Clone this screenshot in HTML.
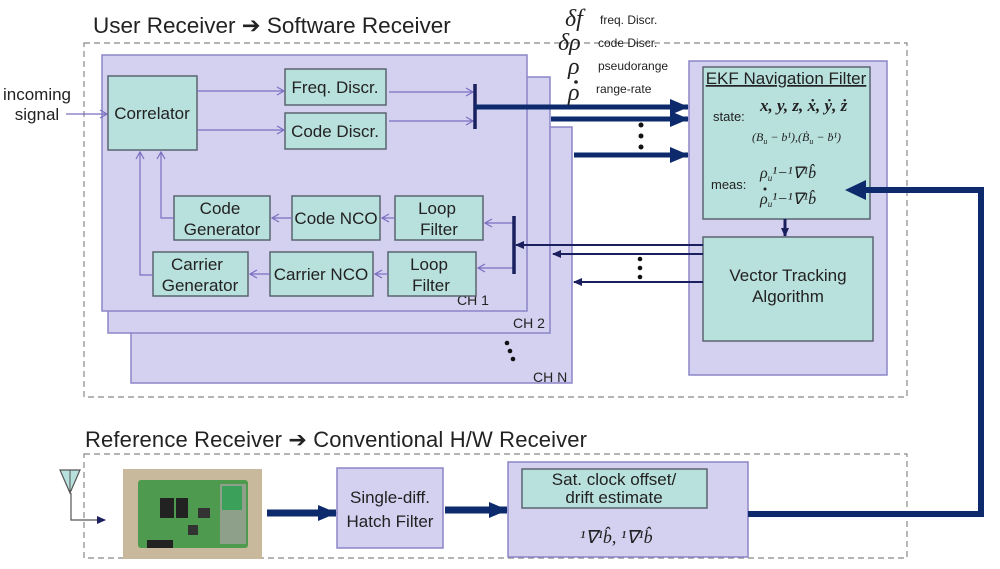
<!DOCTYPE html>
<html><head><meta charset="utf-8"><style>
body{margin:0;background:#fff;}
svg{display:block;font-family:"Liberation Sans","DejaVu Sans",sans-serif;}
.b{fill:#b8e0dc;stroke:#5a6670;stroke-width:1.5}
.p{fill:#d3d0f0;stroke:#8c86c8;stroke-width:1.5}
.t{font-size:17px;fill:#222;text-anchor:middle}
.th{stroke:#7a6fc0;stroke-width:1.2;fill:none}
.m{font-family:"Liberation Serif",serif;font-style:italic;fill:#222}
</style></head><body>
<svg width="1000" height="569" viewBox="0 0 1000 569" xmlns="http://www.w3.org/2000/svg">
<defs>
<marker id="oa" markerWidth="10" markerHeight="10" refX="8" refY="5" orient="auto" markerUnits="userSpaceOnUse"><path d="M1,1 L8,5 L1,9" fill="none" stroke="#7a6fc0" stroke-width="1.2"/></marker>
<marker id="na" markerWidth="10" markerHeight="10" refX="8" refY="5" orient="auto" markerUnits="userSpaceOnUse"><path d="M0,1 L9,5 L0,9 z" fill="#1a1f5e"/></marker>
<marker id="ta" markerWidth="20" markerHeight="20" refX="18" refY="10" orient="auto" markerUnits="userSpaceOnUse"><path d="M0,2 L19,10 L0,18 z" fill="#0c2a6c"/></marker>
</defs>
<text x="93" y="33" font-size="22.5" fill="#222">User Receiver ➔ Software Receiver</text>
<text x="85" y="447" font-size="22" fill="#222" textLength="502">Reference Receiver ➔ Conventional H/W Receiver</text>
<rect x="84" y="43" width="823" height="354" fill="none" stroke="#888" stroke-dasharray="6,4" stroke-width="1.2"/>
<rect x="84" y="454" width="823" height="104" fill="none" stroke="#888" stroke-dasharray="6,4" stroke-width="1.2"/>
<rect class="p" x="131" y="127" width="441" height="256"/>
<rect class="p" x="108" y="77" width="442" height="256"/>
<rect class="p" x="102" y="55" width="425" height="256"/>
<text x="457" y="305" font-size="14" fill="#222">CH 1</text>
<text x="513" y="328" font-size="14" fill="#222">CH 2</text>
<text x="533" y="382" font-size="14" fill="#222">CH N</text>
<circle cx="507" cy="343" r="2.3" fill="#111"/><circle cx="510" cy="351" r="2.3" fill="#111"/><circle cx="513" cy="359" r="2.3" fill="#111"/>
<text x="37" y="100" class="t">incoming</text>
<text x="37" y="120" class="t">signal</text>
<line x1="66" y1="114" x2="107" y2="114" class="th" marker-end="url(#oa)"/>
<rect class="b" x="108" y="76" width="89" height="74"/><text x="152" y="119" class="t">Correlator</text>
<rect class="b" x="285" y="69" width="101" height="36"/><text x="335" y="93" class="t">Freq. Discr.</text>
<rect class="b" x="285" y="113" width="101" height="36"/><text x="335" y="137" class="t">Code Discr.</text>
<line x1="197" y1="91" x2="284" y2="91" class="th" marker-end="url(#oa)"/>
<line x1="197" y1="130" x2="284" y2="130" class="th" marker-end="url(#oa)"/>
<line x1="389" y1="92" x2="473" y2="92" class="th" marker-end="url(#oa)"/>
<line x1="389" y1="121" x2="473" y2="121" class="th" marker-end="url(#oa)"/>
<line x1="475" y1="84" x2="475" y2="129" stroke="#1a1f5e" stroke-width="3.5"/>
<rect class="b" x="174" y="196" width="96" height="44"/><text x="220" y="214" class="t">Code</text><text x="222" y="235" class="t">Generator</text>
<rect class="b" x="292" y="196" width="88" height="44"/><text x="336" y="224" class="t">Code NCO</text>
<rect class="b" x="395" y="196" width="88" height="44"/><text x="437" y="214" class="t">Loop</text><text x="439" y="235" class="t">Filter</text>
<rect class="b" x="153" y="252" width="95" height="44"/><text x="197" y="270" class="t">Carrier</text><text x="200" y="291" class="t">Generator</text>
<rect class="b" x="270" y="252" width="103" height="44"/><text x="321" y="280" class="t">Carrier NCO</text>
<rect class="b" x="388" y="252" width="88" height="44"/><text x="429" y="270" class="t">Loop</text><text x="431" y="291" class="t">Filter</text>
<line x1="292" y1="218" x2="272" y2="218" class="th" marker-end="url(#oa)"/>
<line x1="395" y1="218" x2="382" y2="218" class="th" marker-end="url(#oa)"/>
<line x1="270" y1="274" x2="250" y2="274" class="th" marker-end="url(#oa)"/>
<line x1="388" y1="274" x2="375" y2="274" class="th" marker-end="url(#oa)"/>
<polyline points="174,218 161,218 161,152" class="th" marker-end="url(#oa)"/>
<polyline points="153,275 140,275 140,152" class="th" marker-end="url(#oa)"/>
<line x1="514" y1="223" x2="485" y2="223" class="th" marker-end="url(#oa)"/>
<line x1="514" y1="268" x2="478" y2="268" class="th" marker-end="url(#oa)"/>
<line x1="514" y1="216" x2="514" y2="274" stroke="#1a1f5e" stroke-width="3.5"/>
<line x1="475" y1="107" x2="688" y2="107" stroke="#0c2a6c" stroke-width="5" marker-end="url(#ta)"/>
<line x1="551" y1="119" x2="688" y2="119" stroke="#0c2a6c" stroke-width="5" marker-end="url(#ta)"/>
<line x1="574" y1="155" x2="688" y2="155" stroke="#0c2a6c" stroke-width="5" marker-end="url(#ta)"/>
<circle cx="641" cy="125" r="2.5" fill="#111"/><circle cx="641" cy="136" r="2.5" fill="#111"/><circle cx="641" cy="147" r="2.5" fill="#111"/>
<text x="565" y="26" class="m" font-size="24">δf</text><text x="600" y="24" font-size="12" fill="#222">freq. Discr.</text>
<text x="558" y="50" class="m" font-size="24">δρ</text><text x="598" y="47" font-size="12" fill="#222">code Discr.</text>
<text x="568" y="74" class="m" font-size="24">ρ</text><text x="598" y="70" font-size="12" fill="#222">pseudorange</text>
<text x="568" y="100" class="m" font-size="24">ρ</text><circle cx="576" cy="82" r="1.8" fill="#222"/><text x="596" y="93" font-size="12" fill="#222">range-rate</text>
<rect class="p" x="689" y="61" width="198" height="314"/>
<rect class="b" x="703" y="67" width="167" height="152"/>
<text x="786" y="84" class="t" font-size="16" text-decoration="underline">EKF Navigation Filter</text>
<text x="713" y="121" font-size="13" fill="#222">state:</text>
<text x="760" y="111" class="m" font-size="17" font-weight="bold">x, y, z, ẋ, ẏ, ż</text>
<text x="752" y="141" class="m" font-size="12">(B<tspan font-size="8" dy="3">u</tspan><tspan dy="-3"> − b¹),(Ḃ</tspan><tspan font-size="8" dy="3">u</tspan><tspan dy="-3"> − ḃ¹)</tspan></text>
<text x="711" y="189" font-size="13" fill="#222">meas:</text>
<text x="760" y="178" class="m" font-size="16">ρ<tspan font-size="9" dy="3">u</tspan><tspan dy="-3">¹−¹∇¹b̂</tspan></text>
<text x="760" y="204" class="m" font-size="16">ρ<tspan font-size="9" dy="3">u</tspan><tspan dy="-3">¹−¹∇¹b̂</tspan></text>
<circle cx="765" cy="189" r="1.5" fill="#222"/>
<line x1="785" y1="219" x2="785" y2="236" stroke="#1a1f5e" stroke-width="3" marker-end="url(#na)"/>
<rect class="b" x="703" y="237" width="170" height="104"/>
<text x="788" y="281" class="t">Vector Tracking</text><text x="788" y="302" class="t">Algorithm</text>
<line x1="703" y1="245" x2="516" y2="245" stroke="#1a1f5e" stroke-width="2" marker-end="url(#na)"/>
<line x1="703" y1="254" x2="553" y2="254" stroke="#1a1f5e" stroke-width="2" marker-end="url(#na)"/>
<line x1="703" y1="282" x2="574" y2="282" stroke="#1a1f5e" stroke-width="2" marker-end="url(#na)"/>
<circle cx="640" cy="259" r="2.3" fill="#111"/><circle cx="640" cy="268" r="2.3" fill="#111"/><circle cx="640" cy="277" r="2.3" fill="#111"/>
<polygon points="60,470 80,470 70,493" fill="#b8e0dc" stroke="#555" stroke-width="1.2"/>
<line x1="70" y1="470" x2="70" y2="493" stroke="#555"/>
<polyline points="71,493 71,520 105,520" fill="none" stroke="#555" stroke-width="1.2" marker-end="url(#na)"/>
<rect x="123" y="469" width="139" height="90" fill="#c8b89c"/>
<rect x="138" y="480" width="110" height="68" fill="#4e9a4e" rx="3"/>
<rect x="220" y="484" width="26" height="60" fill="#8fa08a"/>
<rect x="222" y="486" width="20" height="24" fill="#3aa05a"/>
<rect x="160" y="498" width="14" height="20" fill="#222"/><rect x="176" y="498" width="12" height="20" fill="#222"/>
<rect x="198" y="508" width="12" height="10" fill="#333"/><rect x="188" y="525" width="10" height="10" fill="#333"/>
<rect x="147" y="540" width="26" height="8" fill="#222"/>
<line x1="267" y1="513" x2="336" y2="513" stroke="#0c2a6c" stroke-width="7" marker-end="url(#ta)"/>
<rect class="p" x="337" y="468" width="106" height="80"/>
<text x="390" y="503" class="t">Single-diff.</text><text x="390" y="527" class="t">Hatch Filter</text>
<line x1="445" y1="510" x2="507" y2="510" stroke="#0c2a6c" stroke-width="7" marker-end="url(#ta)"/>
<rect class="p" x="508" y="462" width="240" height="95"/>
<rect class="b" x="522" y="469" width="185" height="39"/>
<text x="614" y="485" class="t" font-size="16">Sat. clock offset/</text><text x="614" y="503" class="t" font-size="16">drift estimate</text>
<text x="580" y="543" class="m" font-size="18">¹∇¹b̂, ¹∇¹b̂</text>
<polyline points="748,514 981,514 981,190 852,190" fill="none" stroke="#0c2a6c" stroke-width="6"/>
<polygon points="845,190 866,180 866,200" fill="#0c2a6c"/>
</svg>
</body></html>
